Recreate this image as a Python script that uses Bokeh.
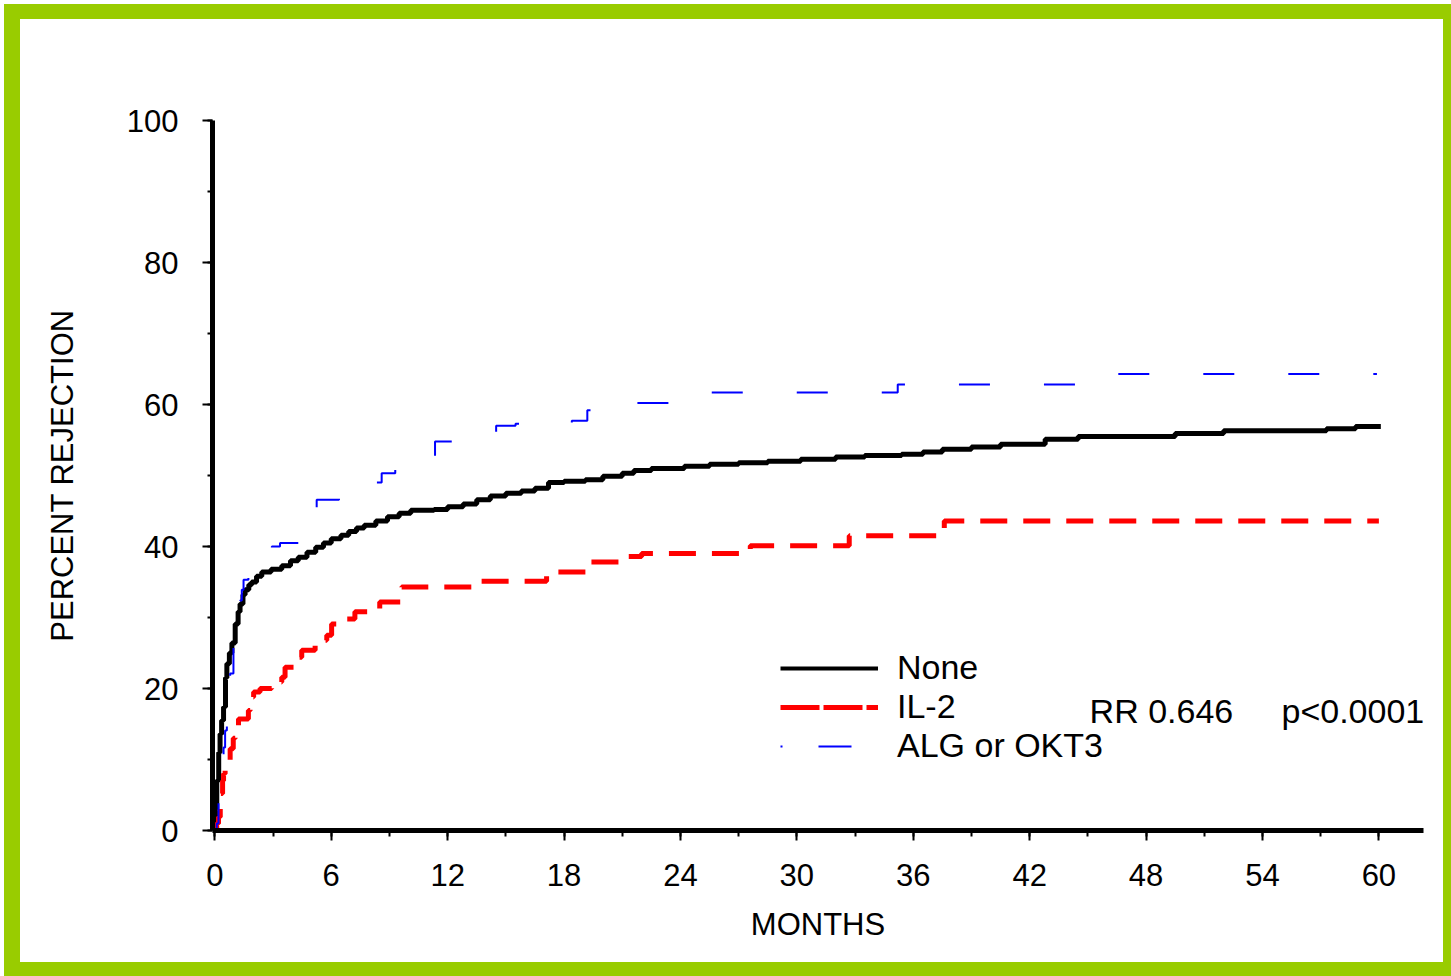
from bokeh.plotting import figure
from bokeh.models import (Range1d, SingleIntervalTicker, Legend, LegendItem, Label,
                          ColumnDataSource, InlineStyleSheet)
from bokeh.embed import file_html
from bokeh.resources import INLINE

# ---------------- data ----------------
none_months = [0, 0.05, 0.1, 0.2, 0.27, 0.35, 0.45, 0.55, 0.62, 0.75, 0.88, 1.05, 1.2, 1.3,
               1.45, 1.56, 1.75, 1.9, 2.15, 2.42, 2.9, 3.45, 3.9, 4.3, 4.75, 5.2, 5.6, 6.0,
               6.5, 6.9, 7.3, 7.7, 8.3, 8.9, 9.5, 10.1, 11.3, 12.0, 12.8, 13.5, 14.2, 15.0,
               15.8, 16.5, 17.2, 18.0, 19.1, 20.0, 21.0, 21.6, 22.5, 24.2, 25.5, 27.0, 28.5,
               30.2, 32.0, 33.5, 35.4, 36.5, 37.5, 39.0, 40.5, 42.8, 44.5, 49.5, 52.0, 57.3,
               58.8, 60.1]
none_pct = [0, 3, 7, 11, 13.6, 15.5, 17.4, 21.5, 23.5, 25, 26.4, 29.1, 30.8, 31.9,
            33.2, 33.9, 34.6, 35.0, 35.8, 36.4, 36.8, 37.3, 38.0, 38.5, 39.2, 39.9, 40.5, 41.1,
            41.6, 42.1, 42.6, 43.0, 43.6, 44.2, 44.7, 45.1, 45.2, 45.6, 46.0, 46.6, 47.1, 47.5,
            47.8, 48.2, 49.0, 49.2, 49.4, 49.9, 50.3, 50.7, 51.0, 51.3, 51.6, 51.8, 52.0,
            52.3, 52.6, 52.8, 53.0, 53.3, 53.7, 54.0, 54.4, 55.1, 55.5, 55.9, 56.3, 56.6,
            56.9, 56.9]

il2_months = [0, 0.1, 0.19, 0.28, 0.4, 0.45, 0.53, 0.79, 0.95, 1.05, 1.22, 1.73, 1.82, 2.0,
              2.33, 2.93, 3.45, 3.62, 4.3, 4.48, 5.17, 5.77, 6.02, 6.71, 7.22, 8.5, 9.63,
              13.4, 17.1, 19.4, 21.0, 22.0, 27.6, 32.7, 37.6, 60.0]
il2_pct = [0, 1.0, 1.9, 5.2, 7.0, 8.0, 9.4, 11.5, 13.0, 14.6, 15.7, 16.9, 18.8, 19.5,
           20.0, 20.9, 21.6, 23.0, 24.4, 25.4, 26.8, 27.5, 29.1, 29.8, 30.8, 32.2, 34.3,
           35.1, 36.4, 37.8, 38.6, 39.0, 40.1, 41.5, 43.6, 43.6]

alg_months = [0, 0.1, 0.19, 0.4, 0.45, 0.53, 0.62, 0.79, 0.96, 1.05, 1.3, 1.39, 1.48, 1.73,
              2.6, 2.94, 3.36, 4.4, 4.8, 5.25, 6.4, 6.6, 8.6, 9.3, 9.6, 10.2, 10.9, 11.35,
              12.5, 14.5, 15.5, 18.4, 19.2, 21.6, 23.5, 35.2, 44.9, 59.9]
alg_pct = [0, 1.0, 5.6, 9.0, 11.7, 14.1, 20.2, 22.1, 26.8, 29.1, 32.4, 33.9, 35.3, 35.7,
           39.2, 40.0, 40.5, 43.9, 45.3, 46.6, 48.2, 49.0, 50.3, 50.8, 51.2, 51.7, 52.3, 54.8,
           55.4, 57.0, 57.3, 57.7, 59.2, 60.2, 61.7, 62.8, 64.3, 64.3]

series_names = ["None", "IL-2", "ALG or OKT3"]
x_ticks_every = 6
y_ticks_every = 20
x_title = "MONTHS"
y_title = "PERCENT REJECTION"
rr_text = "RR 0.646"
p_text = "p<0.0001"

FONT = "Liberation Sans"

p = figure(width=1451, height=976, output_backend="svg", toolbar_location=None,
           x_range=Range1d(-0.12, 62.3), y_range=Range1d(0, 100),
           min_border_left=212, min_border_right=28, min_border_top=120,
           min_border_bottom=146, background_fill_color="white",
           border_fill_color="white", outline_line_color=None)
p.grid.visible = False

# axes
for ax in (p.xaxis[0], p.yaxis[0]):
    ax.axis_line_width = 5
    ax.axis_line_color = "black"
    ax.major_tick_line_width = 2
    ax.minor_tick_line_width = 2
    ax.major_tick_in = 0
    ax.minor_tick_in = 0
    ax.major_label_text_font = FONT
    ax.major_label_text_font_size = "31px"
    ax.major_label_text_color = "black"
    ax.axis_label_text_font = FONT
    ax.axis_label_text_font_size = "31px"
    ax.axis_label_text_font_style = "normal"
    ax.axis_label_text_color = "black"

p.xaxis.ticker = SingleIntervalTicker(interval=x_ticks_every, num_minor_ticks=2)
p.yaxis.ticker = SingleIntervalTicker(interval=y_ticks_every, num_minor_ticks=2)
p.xaxis.major_tick_out = 10
p.xaxis.minor_tick_out = 6
p.yaxis.major_tick_out = 10
p.yaxis.minor_tick_out = 5
p.xaxis.major_label_standoff = 23
p.yaxis.major_label_standoff = 24
p.xaxis.axis_label = x_title
p.xaxis.axis_label_standoff = 18
p.yaxis.axis_label = y_title
p.yaxis.axis_label_standoff = 44

# curves
r_none = p.step(none_months, none_pct, mode="after", line_color="black", line_width=5)
r_il2 = p.step(il2_months, il2_pct, mode="after", line_color="#ff0000", line_width=5,
               line_dash="27 16")
r_alg = p.step(alg_months, alg_pct, mode="after", line_color="#0000ff", line_width=2,
               line_dash="31 54")

# legend samples (NaN renderers so their dash pattern matches the reference key)
nan_src = ColumnDataSource(data=dict(x=[float("nan")], y=[float("nan")]))
l_none = p.line("x", "y", source=nan_src, line_color="black", line_width=4)
l_il2 = p.line("x", "y", source=nan_src, line_color="#ff0000", line_width=5, line_dash="39 4")
l_alg = p.line("x", "y", source=nan_src, line_color="#0000ff", line_width=2,
               line_dash="2 36 33 100")

legend = Legend(items=[LegendItem(label=series_names[0], renderers=[l_none]),
                       LegendItem(label=series_names[1], renderers=[l_il2]),
                       LegendItem(label=series_names[2], renderers=[l_alg])],
                location=(568, 65), orientation="vertical",
                glyph_width=98, glyph_height=30, label_height=30, label_standoff=19,
                spacing=-7, padding=0, margin=0, border_line_color=None,
                background_fill_alpha=0, label_text_font=FONT,
                label_text_font_size="34px", label_text_color="black")
p.add_layout(legend)

p.add_layout(Label(x=45.09, y=16.9, text=rr_text, text_font=FONT, text_font_size="34px",
                   text_baseline="middle", text_align="left", text_color="black"))
p.add_layout(Label(x=54.98, y=16.9, text=p_text, text_font=FONT, text_font_size="34px",
                   text_baseline="middle", text_align="left", text_color="black"))

css = (":host{position:relative;}"
       ":host::after{content:'';position:absolute;left:4px;top:4px;right:0;bottom:0;"
       "border-style:solid;border-color:#99cc00;border-width:15px 8px 14px 16px;"
       "box-sizing:border-box;pointer-events:none;z-index:10;}")
p.stylesheets = [InlineStyleSheet(css=css)]

open("out.html", "w").write(file_html(p, INLINE))
